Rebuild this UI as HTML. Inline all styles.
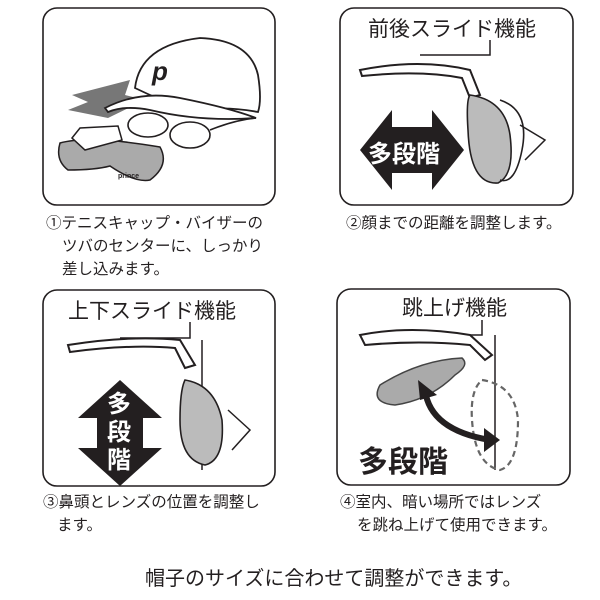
<!DOCTYPE html>
<html><head><meta charset="utf-8"><style>
body{margin:0;background:#fff;width:600px;height:600px;overflow:hidden}
svg{display:block}
text{font-family:"Liberation Sans","Noto Sans CJK JP",sans-serif;fill:#231f20}
</style></head><body>
<svg width="600" height="600" viewBox="0 0 600 600">
<g fill="none" stroke="#231f20" stroke-width="1.6">
<rect x="43" y="8" width="232" height="197" rx="14"/>
<rect x="340" y="8" width="233" height="197" rx="14"/>
<rect x="43" y="290" width="232" height="196" rx="14"/>
<rect x="337" y="289" width="233" height="196" rx="14"/>
</g>

<!-- Panel 1 -->
<polygon points="72,95 130,80 125,95 145,100 108,118 68,110 88,102" fill="#777"/>
<path d="M135,88 Q140,45 200,38 Q250,40 258,75 Q262,100 258,112 Q220,105 190,112 Q160,100 135,88 Z" fill="#fff" stroke="#231f20" stroke-width="1.8"/>
<path d="M105,108 Q140,90 180,98 Q230,108 256,118 Q200,122 150,110 Q125,105 108,112 Z" fill="#fff" stroke="#231f20" stroke-width="1.8"/>
<text x="152" y="80" font-size="26" font-weight="bold" font-style="italic">p</text>
<ellipse cx="148" cy="125" rx="20" ry="12" fill="none" stroke="#231f20" stroke-width="1.6"/>
<ellipse cx="190" cy="135" rx="20" ry="13" fill="none" stroke="#231f20" stroke-width="1.6"/>
<path d="M210,130 Q235,120 256,118" fill="none" stroke="#231f20" stroke-width="1.6"/>
<path d="M60,143 Q90,135 160,147 Q170,165 150,180 Q135,183 110,166 Q95,170 68,170 Q55,160 60,143 Z" fill="#aaa" stroke="#231f20" stroke-width="1.5"/>
<path d="M72,138 L80,128 L118,126 L122,140 L85,150 Z" fill="#fff" stroke="#231f20" stroke-width="1.5"/>
<text x="118" y="178" font-size="7" font-weight="bold">prince</text>

<!-- Panel 2 -->
<text x="368" y="36" font-size="21">前後スライド機能</text>
<path d="M490,40 L490,55 L420,55" fill="none" stroke="#231f20" stroke-width="1.5"/>
<path d="M360,70 Q420,58 470,70 L480,95 L470,98 L462,78 Q420,70 362,76 Z" fill="#fff" stroke="#231f20" stroke-width="2"/>
<path d="M470,95 Q505,100 510,135 Q515,175 498,183 Q470,185 468,130 Q466,100 470,95 Z" fill="#bbb" stroke="#231f20" stroke-width="1.6"/>
<path d="M500,100 Q530,110 522,150 Q515,185 500,180" fill="none" stroke="#231f20" stroke-width="1.6"/>
<path d="M520,125 L545,140 L525,160" fill="none" stroke="#231f20" stroke-width="1.5"/>
<polygon points="360,150 392,110 392,127 432,127 432,110 464,150 432,190 432,173 392,173 392,190" fill="#231f20"/>
<text x="368" y="162" font-size="24" font-weight="bold" style="fill:#fff">多段階</text>

<!-- Panel 3 -->
<text x="68" y="318" font-size="21">上下スライド機能</text>
<path d="M190,322 L190,338 L120,338" fill="none" stroke="#231f20" stroke-width="1.5"/>
<path d="M68,345 Q130,335 180,340 L195,365 L185,368 L175,348 Q130,344 70,352 Z" fill="#fff" stroke="#231f20" stroke-width="2"/>
<path d="M202,340 L202,470" stroke="#231f20" stroke-width="1.5"/>
<path d="M185,380 Q215,385 222,420 Q225,460 205,465 Q180,460 180,420 Q180,390 185,380 Z" fill="#bbb" stroke="#231f20" stroke-width="1.6"/>
<path d="M228,410 L250,430 L232,450" fill="none" stroke="#231f20" stroke-width="1.5"/>
<polygon points="120,380 162,418 143,418 143,448 162,448 120,486 78,448 97,448 97,418 78,418" fill="#231f20"/>
<text x="107" y="412" font-size="24" font-weight="bold" style="fill:#fff">多</text>
<text x="107" y="440" font-size="24" font-weight="bold" style="fill:#fff">段</text>
<text x="107" y="468" font-size="24" font-weight="bold" style="fill:#fff">階</text>

<!-- Panel 4 -->
<text x="402" y="315" font-size="21">跳上げ機能</text>
<path d="M482,320 L482,335 L410,335" fill="none" stroke="#231f20" stroke-width="1.5"/>
<path d="M360,335 Q410,325 470,335 L492,355 L485,360 L470,345 Q420,340 365,345 Z" fill="#fff" stroke="#231f20" stroke-width="2"/>
<path d="M495,335 L495,470" stroke="#231f20" stroke-width="1.5"/>
<path d="M380,385 Q420,360 462,358 Q470,365 455,375 Q430,400 395,405 Q370,403 380,385 Z" fill="#aaa" stroke="#444" stroke-width="1.5"/>
<path d="M482,380 Q515,385 518,420 Q518,465 500,470 Q475,465 472,420 Q470,390 482,380 Z" fill="none" stroke="#666" stroke-width="2.2" stroke-dasharray="6,4"/>
<path d="M425,390 Q430,430 490,440" fill="none" stroke="#231f20" stroke-width="6"/>
<polygon points="418,380 437,395 420,400" fill="#231f20"/>
<polygon points="500,440 484,428 484,452" fill="#231f20"/>
<text x="358" y="472" font-size="30" font-weight="bold">多段階</text>

<!-- captions -->
<g font-size="15.5">
<text x="46" y="228">①テニスキャップ・バイザーの</text>
<text x="62" y="251">ツバのセンターに、しっかり</text>
<text x="62" y="274">差し込みます。</text>
<text x="346" y="228">②顔までの距離を調整します。</text>
<text x="43" y="507">③鼻頭とレンズの位置を調整し</text>
<text x="57" y="530">ます。</text>
<text x="340" y="507">④室内、暗い場所ではレンズ</text>
<text x="357" y="530">を跳ね上げて使用できます。</text>
</g>
<text x="145" y="585" font-size="20">帽子のサイズに合わせて調整ができます。</text>
</svg>
</body></html>
